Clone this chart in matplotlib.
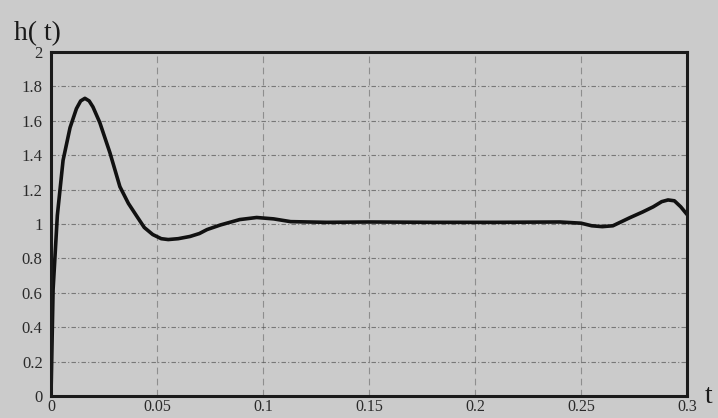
import numpy as np
import matplotlib
matplotlib.use("Agg")
import matplotlib.pyplot as plt

# values
t = [0, 0.001, 0.003, 0.0057, 0.009, 0.012, 0.014, 0.016, 0.018, 0.0198,
     0.023, 0.0278, 0.0325, 0.0365, 0.0406, 0.044, 0.048, 0.052, 0.0553, 0.06,
     0.0656, 0.07, 0.0736, 0.08, 0.089, 0.097, 0.105, 0.113, 0.13, 0.15,
     0.18, 0.21, 0.24, 0.25, 0.255, 0.26, 0.265, 0.273, 0.279, 0.284,
     0.288, 0.291, 0.294, 0.297, 0.3]
h = [0, 0.62, 1.05, 1.37, 1.56, 1.67, 1.715, 1.73, 1.715, 1.68,
     1.59, 1.414, 1.217, 1.12, 1.043, 0.98, 0.939, 0.915, 0.91, 0.915,
     0.928, 0.945, 0.968, 0.995, 1.026, 1.038, 1.03, 1.014, 1.01, 1.012,
     1.01, 1.01, 1.012, 1.005, 0.99, 0.985, 0.99, 1.037, 1.07, 1.10,
     1.13, 1.14, 1.135, 1.1, 1.055]
xticks = [0, 0.05, 0.1, 0.15, 0.2, 0.25, 0.3]
xlabels = ["0", "0.05", "0.1", "0.15", "0.2", "0.25", "0.3"]
yticks = [0, 0.2, 0.4, 0.6, 0.8, 1, 1.2, 1.4, 1.6, 1.8, 2]
ylabels = ["0", "0.2", "0.4", "0.6", "0.8", "1", "1.2", "1.4", "1.6", "1.8", "2"]

bg = "#cbcbcb"
plt.rcParams["font.family"] = ["Liberation Serif", "DejaVu Serif"]
fig = plt.figure(figsize=(7.18, 4.18), dpi=100, facecolor=bg)
ax = fig.add_axes([0.071, 0.052, 0.886, 0.824], facecolor=bg)

ax.plot(t, h, color="#111111", lw=2.6, solid_capstyle="round", solid_joinstyle="round")
ax.set_xlim(0, 0.3)
ax.set_ylim(0, 2)
ax.set_xticks(xticks)
ax.set_xticklabels(xlabels)
ax.set_yticks(yticks)
ax.set_yticklabels(ylabels)
ax.tick_params(length=0, labelsize=12, colors="#2a2a2a")
ax.tick_params(axis="y", pad=6)
ax.tick_params(axis="x", pad=2, labelsize=11.5)
ax.grid(True, axis="y", color="#555555", lw=0.8, ls=(0, (4, 2, 1, 2)), alpha=0.7)
ax.grid(True, axis="x", color="#666666", lw=0.8, ls=(0, (6, 4)), alpha=0.6)
for s in ax.spines.values():
    s.set_linewidth(2.2)
    s.set_color("#1a1a1a")

fig.text(0.020, 0.905, "h( t)", fontsize=20, color="#1a1a1a")
fig.text(0.982, 0.035, "t", fontsize=20, color="#1a1a1a")

fig.savefig("out.png", dpi=100, facecolor=bg)
